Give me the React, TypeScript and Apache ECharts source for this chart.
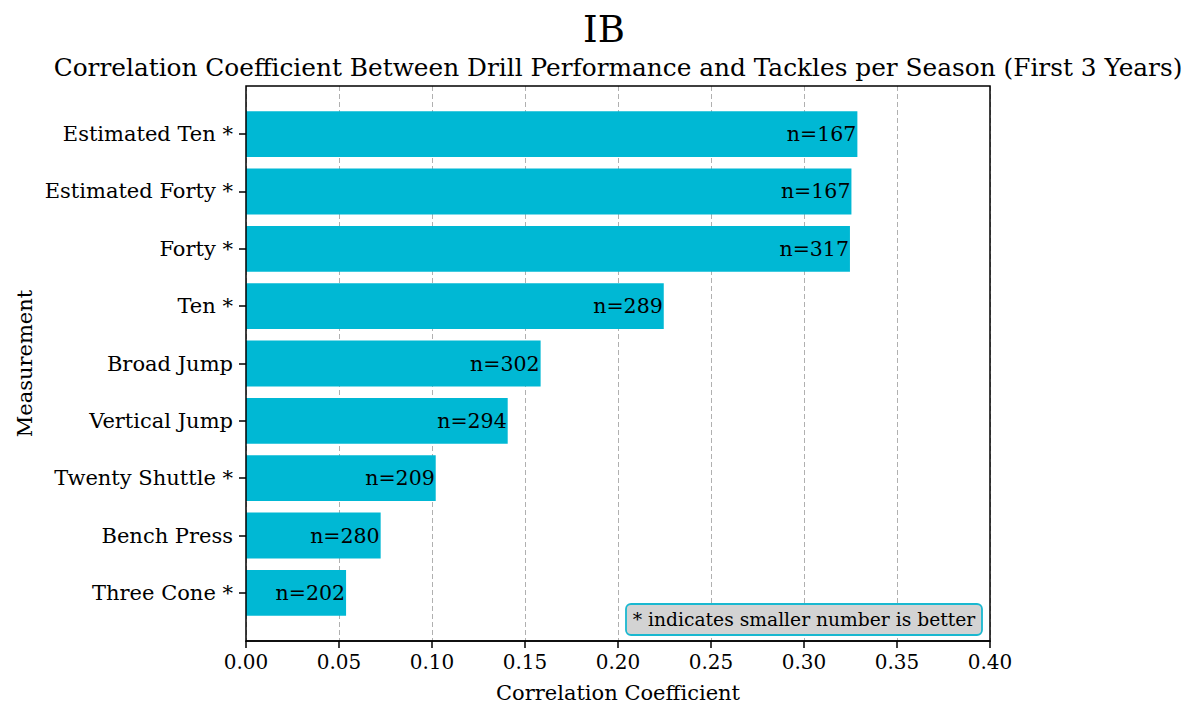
import React, { useEffect, useRef } from "react";
import * as echarts from "echarts";

const categories = [
  "Estimated Ten *",
  "Estimated Forty *",
  "Forty *",
  "Ten *",
  "Broad Jump",
  "Vertical Jump",
  "Twenty Shuttle *",
  "Bench Press",
  "Three Cone *",
];
const values = [0.3287, 0.3255, 0.3247, 0.2246, 0.1584, 0.1407, 0.102, 0.0724, 0.0538];
const counts = [167, 167, 317, 289, 302, 294, 209, 280, 202];

const FONT = "DejaVu Serif";
const BAR = "#00b8d4";

export default function App() {
  const ref = useRef<HTMLDivElement>(null);
  useEffect(() => {
    if (!ref.current) return;
    const chart = echarts.init(ref.current, null, { renderer: "svg" });
    const L = 246, T = 86, W = 744, H = 555;
    const unit = H / 9.68;
    chart.setOption({
      animation: false,
      backgroundColor: "#fff",
      textStyle: { fontFamily: FONT, color: "#000" },
      grid: [
        { left: L, top: T, width: W, height: H },
        { left: L, top: T + 0.34 * unit, width: W, height: 9 * unit },
      ],
      xAxis: [
        {
          gridIndex: 0,
          type: "value",
          min: 0,
          max: 0.4,
          interval: 0.05,
          axisLine: { show: true, lineStyle: { color: "#000", width: 1.5 } },
          axisTick: { show: true, length: 7, lineStyle: { color: "#000", width: 1.5 } },
          axisLabel: {
            formatter: (v: number) => v.toFixed(2),
            fontSize: 20,
            color: "#000",
            margin: 11,
            fontFamily: FONT,
          },
          splitLine: { show: true, lineStyle: { color: "#b0b0b0", width: 1, type: [5, 3] } },
          name: "Correlation Coefficient",
          nameLocation: "middle",
          nameGap: 41,
          nameTextStyle: { fontSize: 21, color: "#000", fontFamily: FONT },
        },
        { gridIndex: 1, type: "value", min: 0, max: 0.4, show: false },
      ],
      yAxis: [
        {
          gridIndex: 0,
          type: "value",
          min: 0,
          max: 1,
          axisLine: { show: false },
          axisTick: { show: false },
          axisLabel: { show: false },
          splitLine: { show: false },
          name: "Measurement",
          nameLocation: "middle",
          nameGap: 211,
          nameRotate: 90,
          nameTextStyle: { fontSize: 21, color: "#000", fontFamily: FONT },
        },
        {
          gridIndex: 1,
          type: "category",
          data: categories,
          inverse: true,
          axisLine: { show: false },
          axisTick: { show: true, alignWithLabel: true, length: 7, lineStyle: { color: "#000", width: 1.5 } },
          axisLabel: { fontSize: 21, color: "#000", margin: 13, fontFamily: FONT, padding: [4, 0, 0, 0] },
          splitLine: { show: false },
        },
      ],
      series: [
        {
          type: "bar",
          xAxisIndex: 1,
          yAxisIndex: 1,
          data: values,
          barCategoryGap: "20%",
          itemStyle: { color: BAR },
          label: {
            show: true,
            position: "insideRight",
            distance: 1,
            formatter: (p: any) => "n=" + counts[p.dataIndex],
            color: "#000",
            fontSize: 20.5,
            fontFamily: FONT,
            padding: [2, 0, 0, 0],
          },
        },
      ],
      graphic: [
        {
          type: "rect",
          z: 100,
          shape: { x: L, y: T, width: W, height: H },
          style: { fill: "none", stroke: "#000", lineWidth: 1.5 },
        },
        {
          type: "text",
          x: 604,
          y: 29,
          style: { text: "IB", fontSize: 37, fontFamily: FONT, fill: "#000", align: "center", verticalAlign: "middle" },
        },
        {
          type: "text",
          x: 618,
          y: 67,
          style: {
            text: "Correlation Coefficient Between Drill Performance and Tackles per Season (First 3 Years)",
            fontSize: 24.8,
            fontFamily: FONT,
            fill: "#000",
            align: "center",
            verticalAlign: "middle",
          },
        },
        {
          type: "rect",
          z: 101,
          shape: { x: 626, y: 604, width: 356, height: 31, r: 5 },
          style: { fill: "#d3d3d3", stroke: "#1ab8d0", lineWidth: 1.8 },
        },
        {
          type: "text",
          z: 102,
          x: 804,
          y: 619.5,
          style: {
            text: "* indicates smaller number is better",
            fontSize: 18.7,
            fontFamily: FONT,
            fill: "#000",
            align: "center",
            verticalAlign: "middle",
          },
        },
      ],
    });
    return () => chart.dispose();
  }, []);
  return (
    <div
      ref={ref}
      style={{ position: "absolute", left: 0, top: 0, width: 1200, height: 720 }}
    />
  );
}
